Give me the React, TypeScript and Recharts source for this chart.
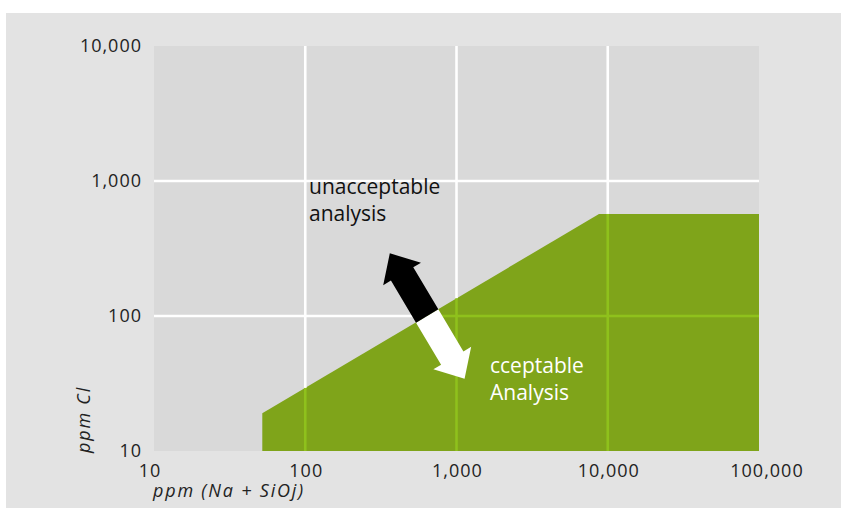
import React from "react";
import { ComposedChart, Area, XAxis, YAxis, CartesianGrid, ReferenceLine, ReferenceDot } from "recharts";

const xTicks = [10, 100, 1000, 10000, 100000];
const yTicks = [10, 100, 1000, 10000];
const gridX = [100, 1000, 10000];
const gridY = [100, 1000];

// outline of the acceptable region (ppm Na + SiO2 vs ppm Cl)
const acceptableZone = [
  { ppmNaSi: 52, ppmCl: 19 },
  { ppmNaSi: 8750, ppmCl: 570 },
  { ppmNaSi: 100000, ppmCl: 570 },
];

const GREEN = "#7fa41a";
const GREEN_GRID = "#8fc11c";
const FONT = "'Open Sans', sans-serif";
const fmt = (v: number) => v.toLocaleString("en-US");

// boundary of the zone, interpolated in log space
function boundaryAtX(x: number): number | null {
  const lx = Math.log10(x);
  for (let i = 0; i < acceptableZone.length - 1; i++) {
    const a = acceptableZone[i];
    const b = acceptableZone[i + 1];
    const la = Math.log10(a.ppmNaSi);
    const lb = Math.log10(b.ppmNaSi);
    if (lx >= la && lx <= lb) {
      const t = (lx - la) / (lb - la);
      return Math.pow(10, Math.log10(a.ppmCl) + t * (Math.log10(b.ppmCl) - Math.log10(a.ppmCl)));
    }
  }
  return null;
}

function boundaryAtY(y: number): number | null {
  const ly = Math.log10(y);
  for (let i = 0; i < acceptableZone.length - 1; i++) {
    const a = acceptableZone[i];
    const b = acceptableZone[i + 1];
    const ya = Math.log10(a.ppmCl);
    const yb = Math.log10(b.ppmCl);
    if (ya !== yb && ly >= Math.min(ya, yb) && ly <= Math.max(ya, yb)) {
      const t = (ly - ya) / (yb - ya);
      return Math.pow(10, Math.log10(a.ppmNaSi) + t * (Math.log10(b.ppmNaSi) - Math.log10(a.ppmNaSi)));
    }
  }
  return null;
}

const Arrow = (props: any) => {
  const { cx, cy } = props;
  const dx = 0.512, dy = 0.859; // direction towards the acceptable side
  const nx = -0.859, ny = 0.512;
  const L = 73, H = 24, W = 22, S = 13;
  const half = (s: number) => {
    const p = (a: number, b: number) => `${cx + dx * a * s + nx * b},${cy + dy * a * s + ny * b}`;
    return [p(0, S), p(L - H, S), p(L - H, W), p(L, 0), p(L - H, -W), p(L - H, -S), p(0, -S)].join(" ");
  };
  return (
    <g>
      <polygon points={half(1)} fill="#fff" />
      <polygon points={half(-1)} fill="#000" />
    </g>
  );
};

const XTick = (props: any) => {
  const { x, y, payload, index } = props;
  const shift = index === 0 ? -4 : index === xTicks.length - 1 ? 8 : 1;
  return (
    <text x={x + shift} y={y} dy="0.71em" textAnchor="middle" fill="#222" fontSize={18} fontFamily={FONT} letterSpacing={1}>
      {fmt(payload.value)}
    </text>
  );
};

export default function App() {
  const tickStyle = { fill: "#222", fontSize: 18, fontFamily: FONT, letterSpacing: 1 };
  return (
    <div style={{ position: "absolute", left: 0, top: 0, width: 841, height: 508, background: "#fff", fontFamily: FONT }}>
      <div style={{ position: "absolute", left: 6, top: 13, right: 0, bottom: 0, background: "#e3e3e3" }} />
      <div style={{ position: "absolute", left: 0, top: 0 }}>
        <ComposedChart width={841} height={508} data={acceptableZone} margin={{ top: 46, right: 82, bottom: 0, left: 0 }}>
          <CartesianGrid fill="#d9d9d9" stroke="none" />
          <XAxis
            dataKey="ppmNaSi"
            type="number"
            scale="log"
            domain={[10, 100000]}
            ticks={xTicks}
            interval={0}
            axisLine={false}
            tickLine={false}
            tickSize={0}
            tickMargin={13}
            height={57}
            tick={<XTick />}
          />
          <YAxis
            type="number"
            scale="log"
            domain={[10, 10000]}
            ticks={yTicks}
            interval={0}
            tickFormatter={fmt}
            axisLine={false}
            tickLine={false}
            tickSize={0}
            tickMargin={12}
            width={154}
            tick={tickStyle}
          />
          <Area type="linear" dataKey="ppmCl" baseValue={10} fill={GREEN} fillOpacity={1} stroke="none" isAnimationActive={false} />
          {gridX.map((x) => {
            const b = boundaryAtX(x);
            const top = b ?? 10;
            return (
              <React.Fragment key={"gx" + x}>
                <ReferenceLine segment={[{ x, y: top }, { x, y: 10000 }]} stroke="#fff" strokeWidth={2.6} />
                {b !== null && <ReferenceLine segment={[{ x, y: 10 }, { x, y: b }]} stroke={GREEN_GRID} strokeWidth={2.6} />}
              </React.Fragment>
            );
          })}
          {gridY.map((y) => {
            const b = boundaryAtY(y);
            return (
              <React.Fragment key={"gy" + y}>
                <ReferenceLine segment={[{ x: 10, y }, { x: b ?? 100000, y }]} stroke="#fff" strokeWidth={2.6} />
                {b !== null && <ReferenceLine segment={[{ x: b, y }, { x: 100000, y }]} stroke={GREEN_GRID} strokeWidth={2.6} />}
              </React.Fragment>
            );
          })}
          <ReferenceDot x={640} y={100} r={0} shape={Arrow} ifOverflow="visible" />
        </ComposedChart>
      </div>
      <svg width={841} height={508} style={{ position: "absolute", left: 0, top: 0, pointerEvents: "none" }}>
        <g fontFamily={FONT} fontSize={21}>
          <text x={309} y={194} fill="#111">unacceptable</text>
          <text x={309} y={221} fill="#111">analysis</text>
          <text x={490} y={373} fill="#fff">cceptable</text>
          <text x={490} y={400} fill="#fff">Analysis</text>
        </g>
        <g fontFamily={FONT} fontSize={18} fontStyle="italic" fill="#222" letterSpacing={1.8}>
          <text x={153} y={497}>ppm (Na + SiOj)</text>
          <text x={90} y={453} transform="rotate(-90 90 453)">ppm Cl</text>
        </g>
      </svg>
    </div>
  );
}
